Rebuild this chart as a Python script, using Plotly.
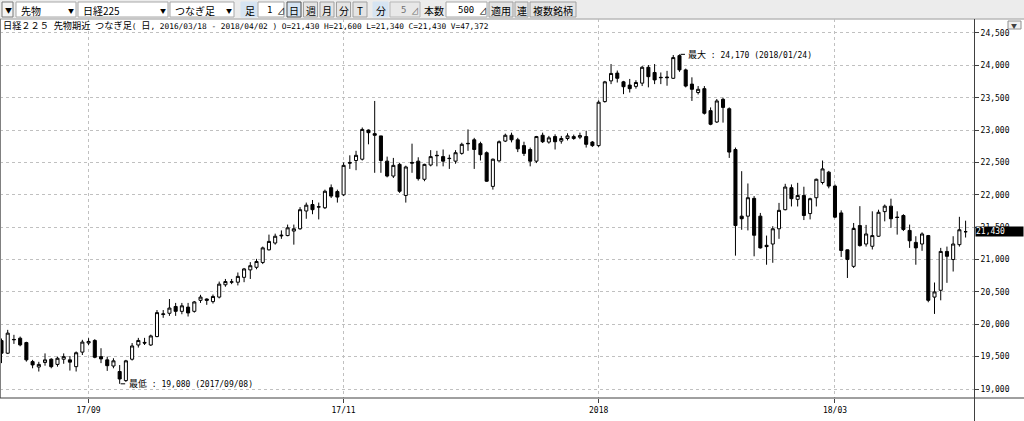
import plotly.graph_objects as go

# daily candles, index 0 = 2017/08/14 ... index 155 = 2018/04/02
OPEN = [19748, 19553, 19760, 19785, 19717, 19423, 19340, 19410, 19460, 19380,
        19460, 19450, 19345, 19570, 19710, 19750, 19500, 19450, 19355, 19270,
        19130, 19460, 19680, 19720, 19680, 19810, 20150, 20170, 20275, 20200,
        20265, 20200, 20370, 20390, 20350, 20420, 20610, 20650, 20650, 20725,
        20840, 20880, 20955, 21150, 21255, 21365, 21370, 21440, 21475, 21750,
        21850, 21810, 21800, 22110, 22050, 22000, 22500, 22530, 22550, 23000,
        22945, 22910, 22520, 22290, 22470, 21990, 22500, 22520, 22240, 22460,
        22610, 22590, 22565, 22520, 22640, 22795, 22850, 22790, 22650, 22130,
        22525, 22830, 22920, 22850, 22760, 22700, 22520, 22920, 22815, 22900,
        22830, 22870, 22870, 22890, 22900, 22815, 22760, 23440, 23760, 23880,
        23745, 23695, 23675, 23725, 23970, 23890, 23815, 23820, 23800, 24150,
        23930, 23710, 23580, 23640, 23300, 23125, 23475, 23330, 22700, 21670,
        21670, 21945, 21670, 21220, 21240, 21475, 21770, 22110, 21930, 21990,
        21710, 21955, 22190, 22350, 22135, 21720, 21150, 20895, 21525, 21240,
        21205, 21360, 21740, 21825, 21655, 21680, 21450, 21265, 21240, 21370,
        20420, 20525, 21125, 21000, 21230, 21430]
HIGH = [19780, 19914, 19837, 19810, 19730, 19450, 19420, 19550, 19475, 19500,
        19550, 19510, 19580, 19760, 19785, 19770, 19630, 19500, 19475, 19370,
        19450, 19710, 19790, 19790, 19840, 20220, 20220, 20390, 20330, 20330,
        20330, 20360, 20455, 20400, 20460, 20660, 20700, 20700, 20800, 20870,
        20960, 21010, 21200, 21385, 21400, 21450, 21540, 21540, 21810, 21880,
        21920, 21880, 22080, 22160, 22080, 22500, 22610, 22680, 23040, 23010,
        23450, 22910, 22590, 22570, 22495, 22450, 22790, 22580, 22480, 22690,
        22680, 22700, 22620, 22690, 22805, 23010, 22880, 22820, 22670, 22560,
        22840, 22945, 22960, 22880, 22820, 22730, 22910, 22960, 22910, 22935,
        22910, 22950, 22930, 22960, 22990, 22830, 23460, 23760, 24020, 23920,
        23760, 23790, 23770, 23990, 24005, 24020, 23890, 23915, 24160, 24170,
        23950, 23815, 23680, 23680, 23350, 23480, 23500, 23350, 22730, 22365,
        22175, 21980, 21720, 21370, 21515, 21875, 22170, 22160, 22185, 22125,
        21955, 22250, 22530, 22370, 22160, 21760, 21155, 21565, 21825, 21535,
        21745, 21770, 21850, 21940, 21745, 21700, 21540, 21360, 21420, 21380,
        20645, 21180, 21200, 21360, 21660, 21600]
LOW = [19400, 19540, 19697, 19660, 19423, 19320, 19270, 19360, 19320, 19345,
       19390, 19285, 19270, 19525, 19680, 19475, 19400, 19280, 19320, 19080,
       19110, 19440, 19640, 19680, 19665, 19800, 20100, 20130, 20130, 20155,
       20120, 20180, 20330, 20300, 20320, 20400, 20580, 20620, 20600, 20650,
       20700, 20850, 20930, 21140, 21230, 21320, 21360, 21230, 21460, 21630,
       21700, 21620, 21780, 21950, 21880, 21980, 22400, 22380, 22530, 22780,
       22340, 22340, 22270, 22260, 22030, 21880, 22340, 22220, 22210, 22440,
       22440, 22440, 22400, 22480, 22620, 22680, 22400, 22530, 22200, 22080,
       22510, 22815, 22810, 22660, 22600, 22440, 22490, 22800, 22790, 22700,
       22790, 22840, 22850, 22860, 22730, 22740, 22740, 23425, 23710, 23735,
       23555, 23580, 23640, 23680, 23660, 23710, 23710, 23685, 23790, 23900,
       23660, 23450, 23550, 23240, 23075, 23110, 23115, 22570, 21060, 21460,
       21450, 21050, 21170, 20920, 20950, 21320, 21760, 21820, 21820, 21610,
       21620, 21820, 22160, 22100, 21640, 21040, 20715, 20870, 21200, 21200,
       21155, 21350, 21590, 21490, 21385, 21440, 21180, 20920, 21135, 20340,
       20160, 20370, 20640, 20815, 21200, 21340]
CLOSE = [19553, 19863, 19765, 19682, 19450, 19372, 19380, 19450, 19345, 19475,
         19500, 19415, 19560, 19725, 19735, 19490, 19465, 19360, 19435, 19155,
         19435, 19665, 19750, 19710, 19820, 20180, 20160, 20250, 20200, 20285,
         20175, 20345, 20420, 20370, 20430, 20620, 20660, 20655, 20740, 20855,
         20905, 20970, 21180, 21280, 21360, 21375, 21490, 21475, 21770, 21840,
         21770, 21815, 22055, 21980, 21965, 22455, 22490, 22610, 23010, 22960,
         22920, 22530, 22290, 22455, 22055, 22430, 22490, 22250, 22470, 22590,
         22605, 22520, 22560, 22650, 22780, 22790, 22700, 22620, 22210, 22550,
         22820, 22920, 22850, 22710, 22640, 22520, 22900, 22820, 22880, 22820,
         22870, 22910, 22900, 22915, 22780, 22760, 23430, 23745, 23875, 23800,
         23670, 23640, 23735, 23970, 23825, 23775, 23810, 23810, 24120, 23930,
         23680, 23630, 23630, 23260, 23090, 23450, 23350, 22660, 21525, 21630,
         21955, 21375, 21180, 21200, 21475, 21760, 22120, 21940, 21990, 21680,
         21940, 22240, 22400, 22135, 21655, 21140, 21000, 21480, 21215, 21395,
         21370, 21730, 21825, 21630, 21650, 21465, 21290, 21180, 21395, 20370,
         20500, 21125, 21050, 21240, 21460, 21430]

TICK_POS = [14, 55, 96, 134]
TICK_TEXT = ["17/09", "17/11", "2018", "18/03"]
PRICE_TICKS = list(range(19000, 25000, 500))
LAST_PRICE = 21430
MAX_IDX, MAX_TEXT = 109, '<span style="font-size:9px">最大</span> : 24,170 (2018/01/24)'
MIN_IDX, MIN_TEXT = 19, '<span style="font-size:9px">最低</span> : 19,080 (2017/09/08)'

W, H = 1024, 421
ML, MR, MT, MB = 0, 50, 19, 23
PW, PH = W - ML - MR, H - MT - MB

MONO = "DejaVu Sans Mono, Noto Sans CJK JP"
JP = "Noto Sans CJK JP, sans-serif"


def fx(x):
    return (x - ML) / PW


def fy(y):
    return (H - MB - y) / PH


fig = go.Figure()
fig.add_trace(go.Candlestick(
    x=list(range(len(OPEN))), open=OPEN, high=HIGH, low=LOW, close=CLOSE,
    increasing=dict(line=dict(color="black", width=1), fillcolor="white"),
    decreasing=dict(line=dict(color="black", width=1), fillcolor="black"),
    whiskerwidth=0, showlegend=False, hoverinfo="skip",
))

shapes = []
annos = []


def rect(x0, y0, x1, y1, fill, line="rgba(0,0,0,0)", lw=1):
    shapes.append(dict(type="rect", xref="paper", yref="paper",
                       x0=fx(x0), x1=fx(x1), y0=fy(y0), y1=fy(y1),
                       fillcolor=fill, line=dict(color=line, width=lw), layer="above"))


def line(x0, y0, x1, y1, color="black", lw=1):
    shapes.append(dict(type="line", xref="paper", yref="paper",
                       x0=fx(x0), x1=fx(x1), y0=fy(y0), y1=fy(y1),
                       line=dict(color=color, width=lw), layer="above"))


def text(x, y, s, size=11, color="black", family=JP, anchor="left"):
    annos.append(dict(xref="paper", yref="paper", x=fx(x), y=fy(y), text=s,
                      showarrow=False, xanchor=anchor, yanchor="middle",
                      font=dict(family=family, size=size, color=color)))


# toolbar
rect(0, 0, W, 19, "#ececec", "#ececec")
line(0, 19, W, 19, "#a0a0a0")
rect(2, 2, 13, 17, "#f4f4f4", "#7a7a7a")
text(3, 10, "▼", 7)
for x0, x1, label in [(16, 76, "先物"), (78, 168, "日経225"), (170, 234, "つなぎ足")]:
    rect(x0, 2, x1, 17, "white", "#a8a8a8")
    text(x0 + 3, 10, label, 10)
    text(x1 - 10, 10, "▼", 6)
rect(241, 2, 257, 17, "#d6e4f2", "#d6e4f2")
text(243, 10, "足", 10)
rect(258, 2, 284, 17, "white", "#a8a8a8")
text(274, 10, "1", 9, family=MONO, anchor="right")
text(275, 10, "⊿", 8)
for i, b in enumerate(["日", "週", "月", "分", "T"]):
    x0 = 287 + i * 16.5
    rect(x0, 2, x0 + 14, 17, "#d6e4f2" if i == 0 else "#e4e4e4", "#505050" if i == 0 else "#a0a0a0")
    text(x0 + 7, 10, b, 10, anchor="center")
rect(373, 2, 388, 17, "#d6e4f2", "#d6e4f2")
text(374, 10, "分", 10)
rect(390, 2, 420, 17, "#e8e8e8", "#b8b8b8")
text(408, 10, "5", 9, color="#707070", family=MONO, anchor="right")
text(409, 10, "⊿", 8, color="#707070")
text(422, 10, "本数", 10)
rect(446, 2, 487, 17, "white", "#a8a8a8")
text(476, 10, "500", 9, family=MONO, anchor="right")
text(477, 10, "⊿", 8)
for x0, x1, label in [(489, 513, "適用"), (515, 528, "連"), (530, 576, "複数銘柄")]:
    rect(x0, 2, x1, 17, "#e4e4e4", "#a0a0a0")
    text((x0 + x1) / 2, 10, label, 10, anchor="center")

# info line
info = ('<span style="font-size:9.2px">日経２２５</span> <span style="font-size:9.2px">先物期近</span> '
        '<span style="font-size:9.2px">つなぎ足</span>( <span style="font-size:9.2px">日</span>, '
        '2016/03/18 - 2018/04/02 ) O=21,430 H=21,600 L=21,340 C=21,430 V=47,372')
text(1, 25, info, 7.8, family=MONO)

# frame lines
line(0.5, 19, 0.5, H - MB, "#808080")
line(0, H - MB, W, H - MB, "#404040")
line(PW + 0.5, 19, PW + 0.5, H, "#404040")
rect(1008, 21, 1021, 29, "#f0f0f0", "#909090")
text(1009, 25, "▼", 6, color="#404040")

# last price box on the price axis
annos.append(dict(xref="paper", yref="y", x=1, y=LAST_PRICE, xanchor="left", yanchor="middle",
                  text="21,430", showarrow=False, bgcolor="black", width=47, align="left",
                  borderpad=0, xshift=1, font=dict(family=MONO, size=8, color="white")))

# max / min markers
for idx, price, label in [(MAX_IDX, max(HIGH), MAX_TEXT), (MIN_IDX, min(LOW), MIN_TEXT)]:
    annos.append(dict(x=idx, y=price, xref="x", yref="y", text="", showarrow=True,
                      arrowhead=0, arrowwidth=1, arrowcolor="black", ax=7, ay=0, standoff=1))
    annos.append(dict(x=idx, y=price, xref="x", yref="y", text=label, showarrow=False,
                      xanchor="left", yanchor="middle", xshift=7,
                      font=dict(family=MONO, size=8, color="black")))

fig.update_layout(
    width=W, height=H,
    margin=dict(l=ML, r=MR, t=MT, b=MB),
    paper_bgcolor="white", plot_bgcolor="white",
    shapes=shapes, annotations=annos,
    showlegend=False,
)
fig.update_xaxes(
    range=[-0.24, 156.35], rangeslider_visible=False,
    tickmode="array", tickvals=TICK_POS, ticktext=TICK_TEXT,
    ticks="outside", ticklen=4, tickcolor="#404040",
    showgrid=True, gridcolor="#c0c0c0", griddash="dot", gridwidth=1,
    zeroline=False, showline=False,
    tickfont=dict(family=MONO, size=8, color="black"),
)
fig.update_yaxes(
    side="right", range=[18861, 24716],
    tickmode="array", tickvals=PRICE_TICKS, tickformat=",d",
    ticks="outside", ticklen=4, tickcolor="#404040",
    showgrid=True, gridcolor="#c0c0c0", griddash="dot", gridwidth=1,
    zeroline=False, showline=False,
    tickfont=dict(family=MONO, size=8, color="black"),
)

fig.write_html("out.html", config={"displayModeBar": False},
               post_script="document.body.style.margin='0';document.body.style.overflow='hidden';")
